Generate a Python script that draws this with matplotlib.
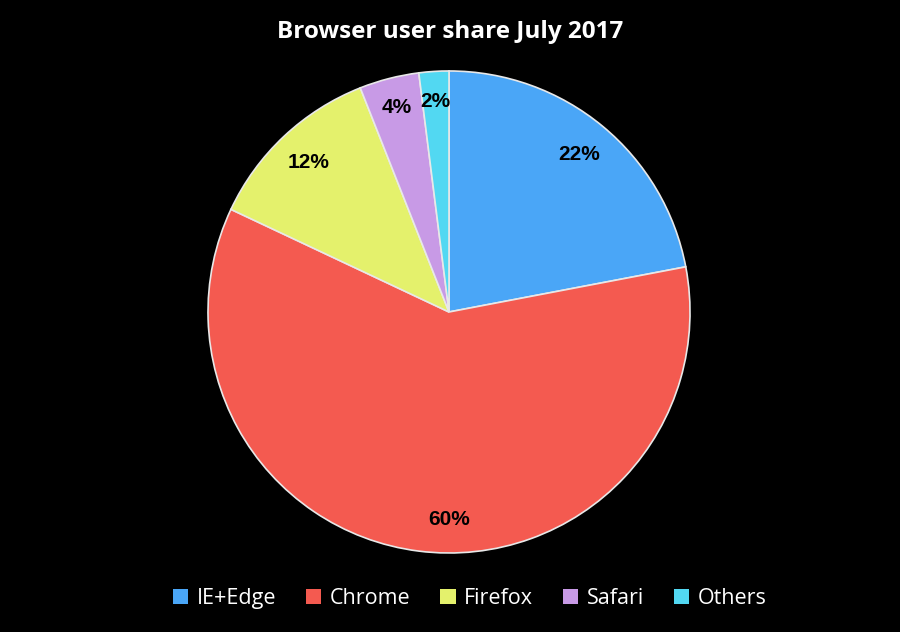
import matplotlib.pyplot as plt

# data
browsers = ['IE+Edge', 'Chrome', 'Firefox', 'Safari', 'Others']
shares = [22, 60, 12, 4, 2]
colors = ['#4aa6f7', '#f45a50', '#e4f16c', '#c89ae6', '#52d8f2']

fig = plt.figure(figsize=(9, 6.32), dpi=100, facecolor='black')
ax = fig.add_axes([0.2311, 0.125, 0.5356, 0.7627])
ax.set_facecolor('black')

wedges, texts, pcts = ax.pie(shares, colors=colors, startangle=90, counterclock=False,
                             autopct='%d%%', pctdistance=0.85,
                             wedgeprops=dict(edgecolor='#e8e8e8', linewidth=1.2),
                             textprops=dict(family='Liberation Sans', fontsize=15,
                                            fontweight='bold', color='black'))
# the big slice has its label straight under the centre,
# the two thin ones sit a bit closer to the rim
pcts[1].set_position((0.0, -0.86))
for p in pcts[3:]:
    x, y = p.get_position()
    p.set_position((x * 1.03, y * 1.03))

ax.set_xlim(-1, 1)
ax.set_ylim(-1, 1)
ax.axis('off')

fig.text(0.5, 0.949, 'Browser user share July 2017', ha='center', va='center',
         color='white', fontsize=17.5, fontweight='bold', family='Open Sans')

leg = fig.legend(wedges, browsers, loc='center', bbox_to_anchor=(0.522, 0.053), ncol=5,
                 frameon=False, handlelength=0.7, handleheight=0.7, handletextpad=0.4,
                 columnspacing=1.4, prop=dict(family='Open Sans', size=15.5))
for t in leg.get_texts():
    t.set_color('white')
for h in leg.legend_handles:
    h.set_edgecolor('none')

fig.savefig('out.png', dpi=100, facecolor='black')
